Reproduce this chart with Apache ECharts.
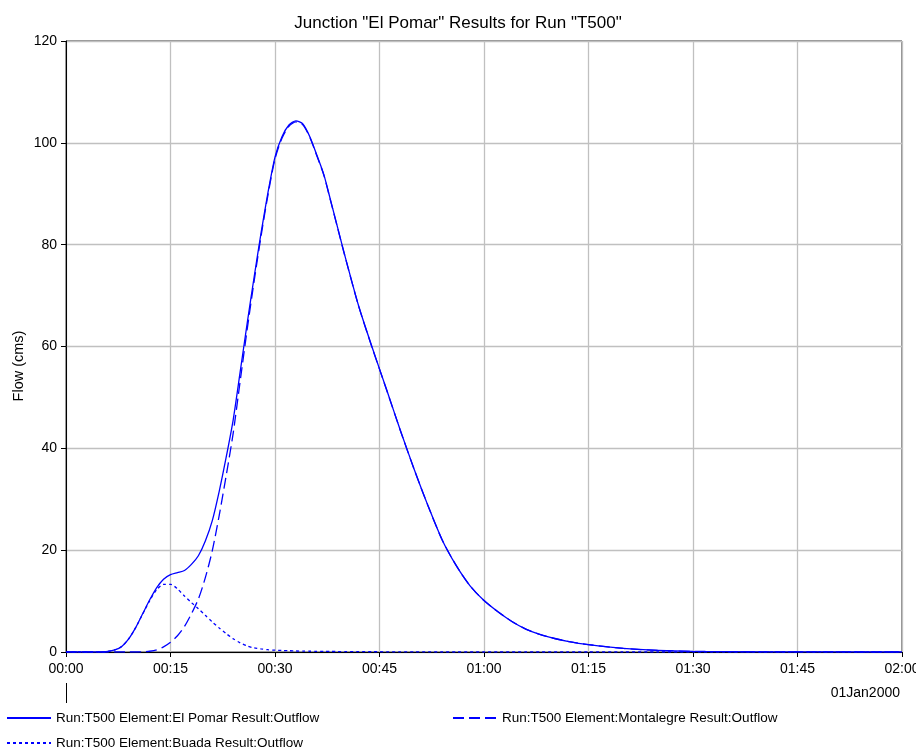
<!DOCTYPE html>
<html>
<head>
<meta charset="utf-8">
<script src="https://cdn.jsdelivr.net/npm/echarts@6/dist/echarts.min.js"></script>
<style>
html,body{margin:0;padding:0;background:#fff;overflow:hidden;}
#chart{width:916px;height:749px;}
</style>
</head>
<body>
<div id="chart"></div>
<script>
// time in minutes after 00:00 01Jan2000
var times = [0,5,6,7,8,9,10,11,12,13,14,15,16,17,18,19,20,21,22,23,24,25,26,27,28,29,30,31,32,33,34,35,36,37,38,39,40,42,44,46,48,50,52,54,56,58,60,62,64,66,68,70,72,75,80,85,90,100,110,120];
var elPomar = [0,0,0.1,0.4,1.1,2.6,4.8,7.5,10.2,12.6,14.3,15.2,15.6,16.0,17.2,18.9,21.8,25.8,31.6,38.3,45.6,55.0,64.5,73.6,82.3,90.3,97.2,101.2,103.5,104.3,103.7,101.2,97.6,93.8,88.6,83.3,78.0,68.0,59.6,51.6,43.5,35.8,28.6,22.0,17.0,13.0,10.1,7.9,6.0,4.5,3.45,2.7,2.1,1.45,0.7,0.3,0.12,0.03,0.01,0];
var montalegre = [0,0,0,0,0,0,0,0.05,0.15,0.4,1.0,1.9,3.2,5.0,7.5,10.4,14.6,19.9,26.9,34.7,43.0,53.2,63.3,72.8,81.7,89.85,96.85,100.9,103.25,104.1,103.52,101.05,97.47,93.69,88.5,83.21,77.92,67.94,59.55,51.56,43.47,35.78,28.59,21.99,17.0,13.0,10.1,7.9,6.0,4.5,3.45,2.7,2.1,1.45,0.7,0.3,0.12,0.03,0.01,0];
var buada = [0,0,0.1,0.4,1.1,2.6,4.8,7.45,10.05,12.2,13.3,13.3,12.4,11.0,9.7,8.5,7.2,5.9,4.7,3.6,2.6,1.8,1.2,0.8,0.6,0.45,0.35,0.3,0.25,0.2,0.18,0.15,0.13,0.11,0.1,0.09,0.08,0.06,0.05,0.04,0.03,0.02,0.01,0,0,0,0,0,0,0,0,0,0,0,0,0,0,0,0,0];
var xTickLabels = ["00:00","00:15","00:30","00:45","01:00","01:15","01:30","01:45","02:00"];
var yTicks = [0,20,40,60,80,100,120];
var seriesNames = ["Run:T500 Element:El Pomar Result:Outflow","Run:T500 Element:Montalegre Result:Outflow","Run:T500 Element:Buada Result:Outflow"];
var titleText = 'Junction "El Pomar" Results for Run "T500"';
var yAxisTitle = "Flow (cms)";
var dateLabel = "01Jan2000";

function pairs(vals){ return times.map(function(t,i){ return [t, vals[i]]; }); }

var FONT = "Liberation Sans";
var chart = echarts.init(document.getElementById('chart'));
var legendText = {fontFamily: FONT, fontSize: 13.5, color: '#000'};
var legendCommon = {itemWidth: 44, itemHeight: 10, itemGap: 0, padding: 0, textStyle: legendText, itemStyle: {opacity: 0}};
function mkLegend(name, left, top){
  return Object.assign({data: [name], left: left, top: top}, legendCommon);
}
chart.setOption({
  animation: false,
  backgroundColor: '#fff',
  title: {text: titleText, left: 'center', top: 10,
    textStyle: {fontFamily: FONT, fontSize: 17, fontWeight: 'normal', color: '#000'}},
  grid: {left: 66, right: 14, top: 41, bottom: 97, show: true, borderColor: '#222', borderWidth: 1, outerBoundsMode: 'none', containLabel: false},
  legend: [
    mkLegend(seriesNames[0], 6, 711),
    mkLegend(seriesNames[1], 452, 711),
    mkLegend(seriesNames[2], 6, 736)
  ],
  xAxis: {
    type: 'value', min: 0, max: 120, interval: 15,
    axisLine: {lineStyle: {color: '#000', width: 1}},
    axisTick: {show: true, length: 5, lineStyle: {color: '#000'}},
    axisLabel: {color: '#000', fontFamily: FONT, fontSize: 14, margin: 10, hideOverlap: false,
      formatter: function(v){ return xTickLabels[Math.round(v/15)]; }},
    splitLine: {show: true, lineStyle: {color: '#c0c0c0', width: 1.3}}
  },
  yAxis: {
    type: 'value', min: yTicks[0], max: yTicks[yTicks.length-1], interval: 20,
    axisLine: {show: true, lineStyle: {color: '#000', width: 1}},
    axisTick: {show: true, length: 5, lineStyle: {color: '#000'}},
    axisLabel: {color: '#000', fontFamily: FONT, fontSize: 14, margin: 9},
    splitLine: {show: true, lineStyle: {color: '#c0c0c0', width: 1.3}}
  },
  series: [
    {name: seriesNames[0], type: 'line', data: pairs(elPomar), symbol: 'none', smooth: 0.25,
      lineStyle: {color: '#0000ff', width: 1.3, type: 'solid'}, itemStyle: {color: '#0000ff'}, z: 3},
    {name: seriesNames[1], type: 'line', data: pairs(montalegre), symbol: 'none', smooth: 0.25,
      lineStyle: {color: '#0000ff', width: 1.3, type: [11, 5]}, itemStyle: {color: '#0000ff'}, z: 2},
    {name: seriesNames[2], type: 'line', data: pairs(buada), symbol: 'none', smooth: 0.25,
      lineStyle: {color: '#0000ff', width: 1.3, type: [3, 3]}, itemStyle: {color: '#0000ff'}, z: 2}
  ],
  graphic: [
    {type: 'text', right: 16, top: 686, style: {text: dateLabel, fontFamily: FONT, fontSize: 14, fill: '#000'}},
    {type: 'text', x: 19, y: 366, rotation: Math.PI/2,
      style: {text: yAxisTitle, fontFamily: FONT, fontSize: 14.5, fill: '#000', align: 'center', verticalAlign: 'middle'}},
    {type: 'line', shape: {x1: 66.5, y1: 683, x2: 66.5, y2: 703}, style: {stroke: '#000', lineWidth: 1}}
  ]
});
</script>
</body>
</html>
